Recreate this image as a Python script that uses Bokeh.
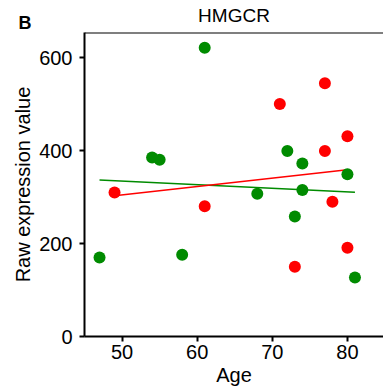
import numpy as np
from bokeh.plotting import figure
from bokeh.models import Range1d, FixedTicker, Span, Title
from bokeh.embed import file_html
from bokeh.resources import INLINE

# Data
green_age = [47, 54, 55, 58, 61, 68, 72, 73, 74, 74, 80, 81]
green_val = [170, 385, 380, 176, 621, 307, 399, 258, 372, 315, 349, 127]
red_age = [49, 61, 71, 73, 77, 77, 78, 80, 80]
red_val = [310, 280, 500, 150, 545, 399, 290, 431, 191]
x_ticks = [50, 60, 70, 80]
y_ticks = [0, 200, 400, 600]

GREEN = "#008B00"
RED = "#FF0000"
FONT = "Liberation Sans"

p = figure(width=383, height=390, output_backend="svg", toolbar_location=None,
           title=None,
           x_range=Range1d(45, 84.8), y_range=Range1d(0, 654),
           min_border_left=84, min_border_right=0, min_border_top=32, min_border_bottom=54)
p.outline_line_color = None
p.background_fill_color = "white"
p.border_fill_color = "white"
p.grid.visible = False

# panel letter: inner title row, top-aligned, shifted left into the border
tB = Title(text="B", align="left", offset=-66, standoff=-4, vertical_align="top",
           text_font=FONT, text_font_size="18px", text_font_style="bold", text_color="black")
p.add_layout(tB, "above")
# chart title: zero-height outer row, pushed down onto the same line as the letter
tH = Title(text="HMGCR", align="center", standoff=-23, vertical_align="bottom",
           text_font=FONT, text_font_size="19px", text_font_style="normal", text_color="black")
p.add_layout(tH, "above")

for ax in (p.xaxis[0], p.yaxis[0]):
    ax.axis_line_width = 2
    ax.axis_line_color = "black"
    ax.major_tick_line_width = 2
    ax.major_tick_line_color = "black"
    ax.major_tick_out = 5
    ax.major_tick_in = 0
    ax.minor_tick_line_color = None
    ax.major_label_text_font = FONT
    ax.major_label_text_font_size = "20px"
    ax.major_label_text_color = "black"
    ax.axis_label_text_font = FONT
    ax.axis_label_text_font_size = "20px"
    ax.axis_label_text_font_style = "normal"
    ax.axis_label_text_color = "black"

p.xaxis.ticker = FixedTicker(ticks=x_ticks)
p.yaxis.ticker = FixedTicker(ticks=y_ticks)
p.xaxis.axis_label = "Age"
p.yaxis.axis_label = "Raw expression value"
p.xaxis.major_label_standoff = 3
p.yaxis.major_label_standoff = 7
p.xaxis.axis_label_standoff = 2
p.yaxis.axis_label_standoff = 2

# top spine
p.add_layout(Span(location=654, dimension="width", line_color="black", line_width=2))

# regression lines computed from the data
for ages, vals, col in ((green_age, green_val, GREEN), (red_age, red_val, RED)):
    k, b = np.polyfit(ages, vals, 1)
    xs = [min(ages), max(ages)]
    p.line(xs, [k * x + b for x in xs], line_color=col, line_width=1.5)

p.scatter(green_age, green_val, size=12, fill_color=GREEN, line_color=None)
p.scatter(red_age, red_val, size=12, fill_color=RED, line_color=None)

open("out.html", "w").write(file_html(p, INLINE))
